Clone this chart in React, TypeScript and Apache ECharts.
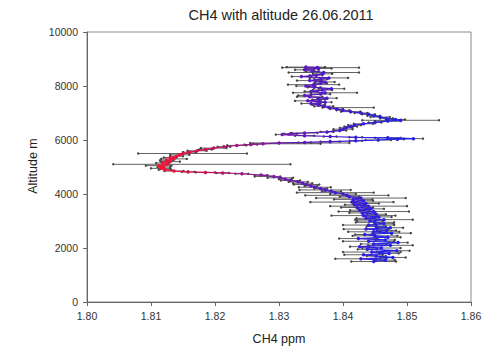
import React, { useEffect, useRef } from "react";
import * as echarts from "echarts";

// Altitude (m) of each sample, ascending
const altitude = [
  1500, 1550, 1600, 1650, 1700, 1750, 1800, 1850, 1900, 1950,
  2000, 2050, 2100, 2150, 2200, 2250, 2300, 2350, 2400, 2450,
  2500, 2550, 2600, 2650, 2700, 2750, 2800, 2850, 2900, 2950,
  3000, 3050, 3100, 3150, 3200, 3250, 3300, 3350, 3400, 3450,
  3500, 3550, 3600, 3650, 3700, 3750, 3800, 3850, 3900, 3950,
  4000, 4050, 4100, 4150, 4200, 4250, 4300, 4350, 4400, 4450,
  4500, 4550, 4600, 4650, 4700, 4750, 4780, 4800, 4820, 4850,
  4900, 4950, 5000, 5050, 5100, 5150, 5200, 5250, 5300, 5350,
  5400, 5450, 5500, 5550, 5600, 5650, 5700, 5750, 5800, 5830,
  5860, 5890, 5910, 5940, 5970, 6000, 6030, 6050, 6080, 6100,
  6130, 6160, 6200, 6230, 6260, 6300, 6350, 6400, 6450, 6500,
  6550, 6600, 6650, 6700, 6730, 6760, 6800, 6850, 6900, 6950,
  7000, 7050, 7100, 7150, 7200, 7250, 7300, 7350, 7400, 7450,
  7500, 7550, 7600, 7650, 7700, 7750, 7800, 7850, 7900, 7950,
  8000, 8050, 8100, 8150, 8200, 8250, 8300, 8350, 8400, 8450,
  8500, 8550, 8600, 8650, 8680, 8700,
];

// CH4 mixing ratio (ppm)
const ch4 = [
  1.8448, 1.8466, 1.8428, 1.8478, 1.8452, 1.8432, 1.8472, 1.8445, 1.8484, 1.8438,
  1.8460, 1.8426, 1.8474, 1.8448, 1.8486, 1.8440, 1.8466, 1.8424, 1.8470, 1.8450,
  1.8434, 1.8476, 1.8448, 1.8468, 1.8436, 1.8474, 1.8452, 1.8440, 1.8464, 1.8450,
  1.8442, 1.8464, 1.8436, 1.8456, 1.8432, 1.8452, 1.8430, 1.8448, 1.8426, 1.8444,
  1.8422, 1.8440, 1.8418, 1.8436, 1.8414, 1.8432, 1.8416, 1.8428, 1.8410, 1.8406,
  1.8400, 1.8388, 1.8382, 1.8372, 1.8365, 1.8356, 1.8350, 1.8343, 1.8337, 1.8330,
  1.8318, 1.8310, 1.8302, 1.8292, 1.8272, 1.8242, 1.8212, 1.8185, 1.8158, 1.8136,
  1.8122, 1.8115, 1.8120, 1.8112, 1.8125, 1.8118, 1.8130, 1.8124, 1.8136, 1.8130,
  1.8140, 1.8145, 1.8150, 1.8160, 1.8172, 1.8185, 1.8198, 1.8214, 1.8234, 1.8256,
  1.8275, 1.8300, 1.8340, 1.8380, 1.8420, 1.8455, 1.8485, 1.8510, 1.8470, 1.8420,
  1.8380, 1.8340, 1.8305, 1.8318, 1.8340, 1.8375, 1.8395, 1.8400, 1.8405, 1.8412,
  1.8418, 1.8432, 1.8450, 1.8470, 1.8490, 1.8482, 1.8468, 1.8458, 1.8448, 1.8440,
  1.8428, 1.8412, 1.8400, 1.8390, 1.8378, 1.8370, 1.8362, 1.8350, 1.8372, 1.8345,
  1.8362, 1.8375, 1.8348, 1.8340, 1.8365, 1.8372, 1.8350, 1.8368, 1.8382, 1.8355,
  1.8342, 1.8354, 1.8365, 1.8372, 1.8348, 1.8365, 1.8378, 1.8335, 1.8358, 1.8368,
  1.8370, 1.8352, 1.8340, 1.8362, 1.8360, 1.8342,
];

// Error bar extent below (minus) and above (plus) each value (ppm)
const errMinus = [
  0.0035, 0.0015, 0.004, 0.002, 0.0015, 0.003, 0.0015, 0.0045, 0.002, 0.0015,
  0.003, 0.0015, 0.0035, 0.002, 0.0015, 0.004, 0.0015, 0.003, 0.002, 0.0035,
  0.0015, 0.003, 0.004, 0.0015, 0.0035, 0.002, 0.0015, 0.004, 0.0015, 0.003,
  0.002, 0.0045, 0.0015, 0.002, 0.005, 0.0015, 0.002, 0.0055, 0.0015, 0.002,
  0.0025, 0.006, 0.0015, 0.002, 0.0065, 0.0015, 0.003, 0.007, 0.0015, 0.0065,
  0.002, 0.006, 0.0015, 0.004, 0.001, 0.0025, 0.001, 0.002, 0.0015, 0.0015,
  0.0015, 0.001, 0.002, 0.003, 0.001, 0.001, 0.001, 0.0015, 0.001, 0.0015,
  0.001, 0.0015, 0.001, 0.002, 0.0084, 0.001, 0.0015, 0.001, 0.002, 0.001,
  0.001, 0.0015, 0.007, 0.001, 0.0015, 0.001, 0.002, 0.001, 0.0015, 0.001,
  0.0015, 0.0045, 0.001, 0.0015, 0.001, 0.002, 0.001, 0.0015, 0.002, 0.001,
  0.001, 0.0015, 0.001, 0.001, 0.002, 0.001, 0.001, 0.0015, 0.001, 0.001,
  0.001, 0.0015, 0.001, 0.002, 0.006, 0.0015, 0.001, 0.0015, 0.001, 0.001,
  0.001, 0.0015, 0.001, 0.001, 0.001, 0.0015, 0.001, 0.0015, 0.001, 0.002,
  0.001, 0.0015, 0.002, 0.001, 0.0015, 0.005, 0.001, 0.0015, 0.002, 0.001,
  0.0015, 0.004, 0.001, 0.0015, 0.002, 0.001, 0.003, 0.0015, 0.001, 0.0015,
  0.0055, 0.001, 0.0015, 0.002, 0.0055, 0.003,
];

const errPlus = [
  0.0035, 0.0015, 0.004, 0.002, 0.0015, 0.003, 0.0015, 0.0045, 0.002, 0.0015,
  0.003, 0.0015, 0.0035, 0.002, 0.0015, 0.004, 0.0015, 0.003, 0.002, 0.0035,
  0.0015, 0.003, 0.004, 0.0015, 0.0035, 0.002, 0.0015, 0.004, 0.0015, 0.003,
  0.002, 0.0045, 0.0015, 0.002, 0.005, 0.0015, 0.002, 0.0055, 0.0015, 0.002,
  0.0025, 0.006, 0.0015, 0.002, 0.0065, 0.0015, 0.003, 0.007, 0.0015, 0.0065,
  0.002, 0.006, 0.0015, 0.004, 0.001, 0.0025, 0.001, 0.002, 0.0015, 0.0015,
  0.0015, 0.001, 0.002, 0.001, 0.001, 0.001, 0.001, 0.0015, 0.001, 0.0015,
  0.001, 0.0015, 0.001, 0.002, 0.0193, 0.001, 0.0015, 0.001, 0.002, 0.001,
  0.001, 0.0015, 0.01, 0.001, 0.0015, 0.001, 0.002, 0.001, 0.0015, 0.001,
  0.009, 0.011, 0.001, 0.0015, 0.001, 0.002, 0.001, 0.0015, 0.002, 0.001,
  0.001, 0.0015, 0.001, 0.001, 0.002, 0.001, 0.001, 0.0015, 0.001, 0.001,
  0.001, 0.0015, 0.001, 0.002, 0.006, 0.0015, 0.001, 0.0015, 0.001, 0.001,
  0.001, 0.0015, 0.001, 0.001, 0.007, 0.0015, 0.001, 0.0015, 0.001, 0.002,
  0.001, 0.0015, 0.002, 0.001, 0.0015, 0.005, 0.001, 0.0015, 0.002, 0.001,
  0.0015, 0.004, 0.001, 0.0015, 0.002, 0.001, 0.003, 0.0015, 0.001, 0.0015,
  0.0055, 0.001, 0.0015, 0.002, 0.0065, 0.003,
];

const xTicks = { min: 1.8, max: 1.86, interval: 0.01 };
const yTicks = { min: 0, max: 10000, interval: 2000 };

const FONT = "'Liberation Sans', Arial, sans-serif";

export default function App() {
  const ref = useRef<HTMLDivElement>(null);

  useEffect(() => {
    if (!ref.current) return;
    const chart = echarts.init(ref.current, undefined, { renderer: "svg" });

    const points = altitude.map((a, i) => [ch4[i], a]);
    const bars = altitude.map((a, i) => [ch4[i], a, errMinus[i], errPlus[i]]);

    chart.setOption({
      animation: false,
      backgroundColor: "#ffffff",
      grid: {
        left: 87,
        right: 25,
        top: 32,
        bottom: 47,
        show: true,
        borderColor: "#8a8a8a",
        borderWidth: 1,
      },
      graphic: [
        {
          type: "text",
          x: 281,
          y: 15,
          style: {
            text: "CH4 with altitude 26.06.2011",
            align: "center",
            verticalAlign: "middle",
            textAlign: "center",
            textVerticalAlign: "middle",
            fontSize: 14.5,
            fontFamily: FONT,
            fill: "#222",
          },
        },
        {
          type: "text",
          x: 279,
          y: 339,
          style: {
            text: "CH4 ppm",
            align: "center",
            verticalAlign: "middle",
            textAlign: "center",
            textVerticalAlign: "middle",
            fontSize: 12.5,
            fontFamily: FONT,
            fill: "#222",
          },
        },
        {
          type: "text",
          x: 33,
          y: 166,
          rotation: Math.PI / 2,
          style: {
            text: "Altitude m",
            align: "center",
            verticalAlign: "middle",
            textAlign: "center",
            textVerticalAlign: "middle",
            fontSize: 12.5,
            fontFamily: FONT,
            fill: "#222",
          },
        },
      ],
      visualMap: {
        show: false,
        type: "continuous",
        dimension: 0,
        seriesIndex: 1,
        min: 1.811,
        max: 1.847,
        inRange: {
          color: ["#ff1030", "#c01060", "#7a1aa8", "#4a18d0", "#2222e6"],
        },
      },
      xAxis: {
        type: "value",
        min: xTicks.min,
        max: xTicks.max,
        interval: xTicks.interval,
        axisLine: { show: true, lineStyle: { color: "#666", width: 1 } },
        axisTick: { show: true, inside: false, length: 4, lineStyle: { color: "#666" } },
        splitLine: { show: false },
        axisLabel: {
          formatter: (v: number) => v.toFixed(2),
          fontSize: 10.5,
          fontFamily: FONT,
          color: "#333",
          margin: 8,
        },
      },
      yAxis: {
        type: "value",
        min: yTicks.min,
        max: yTicks.max,
        interval: yTicks.interval,
        axisLine: { show: true, lineStyle: { color: "#666", width: 1 } },
        axisTick: { show: true, inside: false, length: 4, lineStyle: { color: "#666" } },
        splitLine: { show: false },
        axisLabel: {
          formatter: (v: number) => String(Math.round(v)),
          fontSize: 10.5,
          fontFamily: FONT,
          color: "#333",
          margin: 9,
        },
      },
      series: [
        {
          type: "custom",
          z: 2,
          data: bars,
          renderItem: (params: any, api: any) => {
            const v = api.value(0);
            const a = api.value(1);
            const m = api.value(2);
            const p = api.value(3);
            const p1 = api.coord([v - m, a]);
            const p2 = api.coord([v + p, a]);
            return {
              type: "group",
              children: [
                {
                  type: "line",
                  shape: { x1: p1[0], y1: p1[1], x2: p2[0], y2: p2[1] },
                  style: { stroke: "#3a3a3a", lineWidth: 0.8 },
                },
                {
                  type: "circle",
                  shape: { cx: p1[0], cy: p1[1], r: 1.2 },
                  style: { fill: "#444" },
                },
                {
                  type: "circle",
                  shape: { cx: p2[0], cy: p2[1], r: 1.2 },
                  style: { fill: "#444" },
                },
              ],
            };
          },
        },
        {
          type: "line",
          z: 3,
          data: points,
          symbol: "circle",
          symbolSize: 3.5,
          showSymbol: true,
          lineStyle: { width: 1.2 },
        },
      ],
    });

    return () => chart.dispose();
  }, []);

  return (
    <div
      ref={ref}
      style={{ position: "fixed", left: 0, top: 0, width: 496, height: 349 }}
    />
  );
}
